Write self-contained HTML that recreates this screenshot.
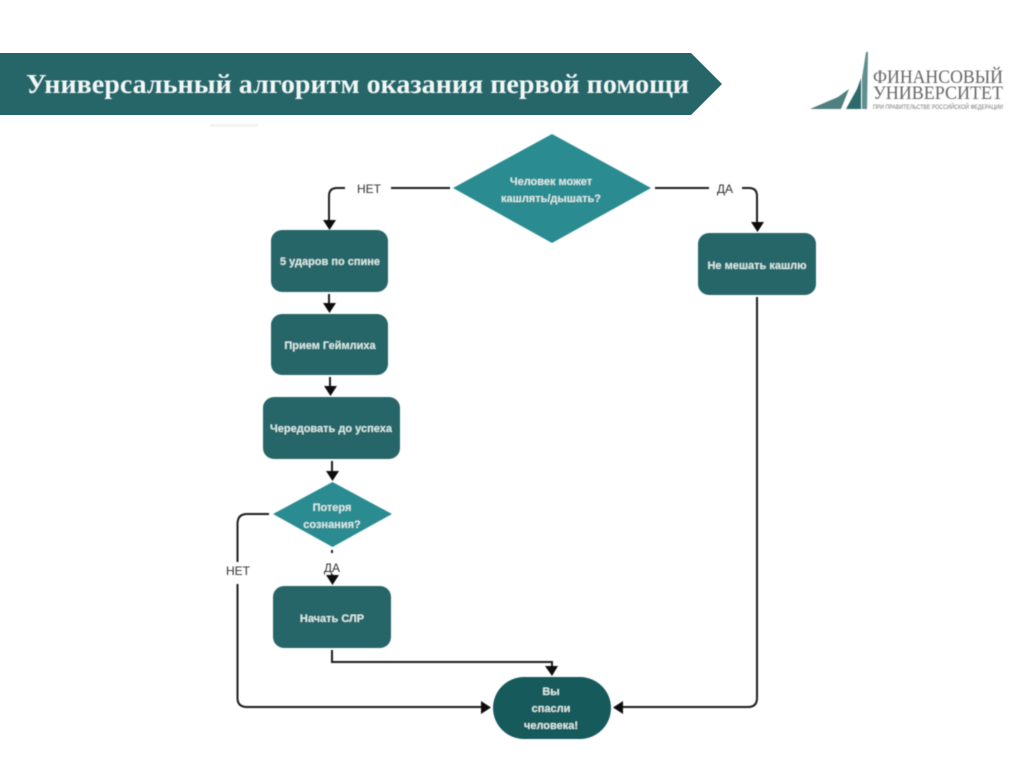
<!DOCTYPE html>
<html lang="ru">
<head>
<meta charset="utf-8">
<title>Универсальный алгоритм оказания первой помощи</title>
<style>
html,body{margin:0;padding:0;background:#fff;width:1024px;height:767px;overflow:hidden}
svg{display:block}
.n{font:bold 11px "Liberation Sans",sans-serif;fill:#d8ebea;text-anchor:middle}
.l{font:12px "Liberation Sans",sans-serif;fill:#333;text-anchor:middle}
.c{fill:none;stroke:#1c1c1c;stroke-width:2}
.a{fill:#111}
</style>
</head>
<body>
<svg width="1024" height="767" viewBox="0 0 1024 767" xmlns="http://www.w3.org/2000/svg">
<defs><filter id="b" x="-5%" y="-5%" width="110%" height="110%"><feGaussianBlur stdDeviation="0.55"/></filter></defs>
<rect width="1024" height="767" fill="#fff"/>

<polygon points="0,53 691,53 722,84 691,115 0,115" fill="#266668"/>
<text x="26" y="93" font-family="'Liberation Serif',serif" font-weight="bold" font-size="27" fill="#f2f6f6" textLength="663" lengthAdjust="spacingAndGlyphs" filter="url(#b)">Универсальный алгоритм оказания первой помощи</text>

<!-- logo -->
<g filter="url(#b)">
<polygon points="810,109 838,97 849,89 841,109" fill="#4f7f7e"/>
<polygon points="846,109 857,89 861,78 861,109" fill="#2f6b6b"/>
<polygon points="862,109 862,78 866,52 868,52 867,109" fill="#5f8f8e"/>
<text x="873" y="83" font-family="'Liberation Serif',serif" font-size="19" fill="#666" textLength="130" lengthAdjust="spacingAndGlyphs">ФИНАНСОВЫЙ</text>
<text x="873" y="99" font-family="'Liberation Serif',serif" font-size="19" fill="#666" textLength="130" lengthAdjust="spacingAndGlyphs">УНИВЕРСИТЕТ</text>
<text x="873" y="109" font-family="'Liberation Sans',sans-serif" font-size="6" fill="#777" textLength="130" lengthAdjust="spacingAndGlyphs">ПРИ ПРАВИТЕЛЬСТВЕ РОССИЙСКОЙ ФЕДЕРАЦИИ</text>
</g>

<rect x="210" y="124" width="48" height="3" fill="#f4f4f2"/>

<g filter="url(#b)">
<!-- connectors -->
<path class="c" d="M450,188H391M345,188H337Q329,188 329,196V222"/>
<polygon class="a" points="323,220 336,220 329.500,230"/>
<path class="c" d="M655,188H709M742,188H749Q757,188 757,196V224"/>
<polygon class="a" points="751,222 764,222 757.500,232"/>
<path class="c" d="M329,294V305"/>
<polygon class="a" points="323,303 336,303 329.500,313"/>
<path class="c" d="M330,377V388"/>
<polygon class="a" points="324,386 337,386 330.500,396"/>
<path class="c" d="M332,461V473"/>
<polygon class="a" points="326,471 339,471 332.500,481"/>
<path class="c" d="M332,550V553"/>
<path class="c" d="M332,574V578"/>
<polygon class="a" points="326,575 339,575 332.500,585"/>
<path class="c" d="M269,514H247Q237.500,514 237.500,524V562M237.500,584V698Q237.500,707 247,707H483"/>
<polygon class="a" points="481,701 481,714 491,707.500"/>
<path class="c" d="M332,650V662H552V668"/>
<polygon class="a" points="545,666 558,666 552,676"/>
<path class="c" d="M757,297V698Q757,707 748,707H620"/>
<polygon class="a" points="623,701 623,714 613,707.500"/>

<!-- shapes -->
<polygon points="453,188 552,134 651,188 552,243" fill="#2b8c91"/>
<rect x="271" y="230" width="117" height="62" rx="11" fill="#266668"/>
<rect x="271" y="314" width="117" height="61" rx="11" fill="#266668"/>
<rect x="263" y="397" width="137" height="62" rx="11" fill="#266668"/>
<polygon points="273,514 332.500,482 392,514 332.500,547" fill="#2b8c91"/>
<rect x="273" y="586" width="118" height="62" rx="11" fill="#266668"/>
<rect x="698" y="233" width="118" height="62" rx="11" fill="#266668"/>
<rect x="493" y="677" width="118" height="62" rx="31" fill="#175a5c"/>

<!-- text -->
<text class="n" x="551" y="185">Человек может</text>
<text class="n" x="551" y="202">кашлять/дышать?</text>
<text class="n" x="330" y="265">5 ударов по спине</text>
<text class="n" x="330" y="349">Прием Геймлиха</text>
<text class="n" x="331" y="432">Чередовать до успеха</text>
<text class="n" x="332" y="511">Потеря</text>
<text class="n" x="332" y="528">сознания?</text>
<text class="n" x="332" y="622">Начать СЛР</text>
<text class="n" x="757" y="269">Не мешать кашлю</text>
<text class="n" x="551" y="695">Вы</text>
<text class="n" x="551" y="712">спасли</text>
<text class="n" x="551" y="729">человека!</text>

<text class="l" x="369" y="193">НЕТ</text>
<text class="l" x="725" y="193">ДА</text>
<text class="l" x="238" y="575">НЕТ</text>
<text class="l" x="332" y="572">ДА</text>
</g>
</svg>
</body>
</html>
